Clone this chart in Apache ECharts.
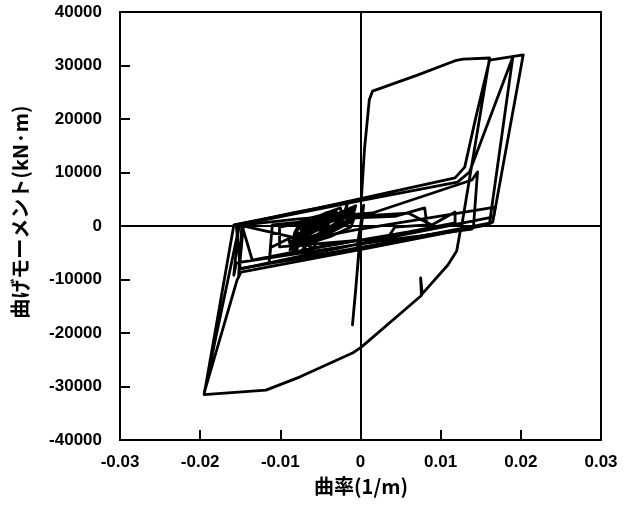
<!DOCTYPE html>
<html>
<head>
<meta charset="utf-8">
<script src="https://cdn.jsdelivr.net/npm/echarts@6/dist/echarts.min.js"></script>
<style>
  html, body { margin: 0; padding: 0; background: #fff; }
  #chart { width: 637px; height: 512px; }
</style>
</head>
<body>
<div id="chart"></div>
<script>
// Axis ranges and tick steps
const curvatureTicks = [-0.03, -0.02, -0.01, 0, 0.01, 0.02, 0.03];
const momentTicks = [-40000, -30000, -20000, -10000, 0, 10000, 20000, 30000, 40000];

// Moment-curvature history, [curvature (1/m), moment (kN·m)]
// Early elastic cycles and the first negative push
const initialCycles = [
  [0.0000, 0], [0.0003, 2100], [-0.0001, -2200], [0.0004, 3900], [-0.0004, -3700],
  [0.0001, 0], [-0.0010, -18500], [-0.0006, -12000], [-0.0001, -2600]
];

// Small cycles concentrated at negative curvature
const smallCycles = [
  [-0.0001, -2600], [-0.0030, -3400], [-0.0062, -4200], [-0.0070, -4600], [-0.0066, -1500],
  [-0.0060, 300], [-0.0035, 1400], [-0.0012, 2600], [-0.0008, 3400], [-0.0012, 800],
  [-0.0040, -1000], [-0.0072, -2600], [-0.0080, -4300], [-0.0076, -1800], [-0.0070, 400],
  [-0.0045, 1600], [-0.0018, 2900], [-0.0016, 4600], [-0.0020, 2400], [-0.0046, 200],
  [-0.0078, -2200], [-0.0086, -3900], [-0.0082, -1200], [-0.0074, 1000], [-0.0050, 2000],
  [-0.0025, 3400], [-0.0022, 1200], [-0.0050, -1200], [-0.0068, -2800], [-0.0088, -4500],
  [-0.0084, -2600], [-0.0078, -600], [-0.0055, 800], [-0.0030, 2200], [-0.0006, 3800],
  [-0.0010, 1600], [-0.0036, -600], [-0.0062, -2000], [-0.0085, -3300], [-0.0080, -1600],
  [-0.0060, -400], [-0.0035, 900], [-0.0015, 2000], [-0.0040, -300], [-0.0070, -1400],
  [-0.0090, -2400], [-0.0086, -4200], [-0.0080, -4800], [-0.0076, -2500], [-0.0068, -400],
  [-0.0050, 700], [-0.0028, 1900], [-0.0010, 3000], [-0.0014, 600], [-0.0042, -1600],
  [-0.0064, -3000], [-0.0072, -4400], [-0.0066, -2200], [-0.0058, -200], [-0.0040, 1000],
  [-0.0022, 2200], [-0.0034, 0], [-0.0056, -1800], [-0.0080, -3600], [-0.0083, -2000],
  [-0.0076, 0], [-0.0062, 1200], [-0.0044, 2400], [-0.0030, 3000], [-0.0036, 1000],
  [-0.0060, -800], [-0.0074, -2000], [-0.0066, -3600], [-0.0058, -4200], [-0.0054, -2400],
  [-0.0044, -1000], [-0.0026, 400], [-0.0008, 1400], [-0.0012, -200], [-0.0038, -2000],
  [-0.0064, -3200], [-0.0078, -3800], [-0.0074, -1200], [-0.0066, 800], [-0.0048, 1800],
  [-0.0034, 2600], [-0.0040, 400], [-0.0064, -1600], [-0.0088, -3000], [-0.0090, -2400]
];

// Intermediate cycles out to about ±0.015
const mediumCycles = [
  [-0.0090, -2400], [-0.0112, -4000], [-0.0114, -6900], [-0.0110, 200], [-0.0030, 1400],
  [0.0043, 1800], [0.0080, 3400], [0.0083, 200], [0.0043, -200], [0.0034, -2200],
  [-0.0060, -3400], [-0.0101, -3900], [-0.0101, -200], [-0.0040, 1500], [0.0060, 2400],
  [0.0089, 200], [0.0118, 2600], [0.0118, 600], [0.0060, -1100], [-0.0050, -3900],
  [-0.0135, -6400], [-0.0148, 200], [-0.0152, -9300], [-0.0146, 200], [-0.0080, 1300],
  [0.0015, 2430], [0.0139, 8600], [0.0146, 10100], [0.0141, 0], [0.0139, -600],
  [0.0020, -2900], [-0.0155, -6900], [-0.0158, -9200], [-0.0152, 200], [-0.0070, -2600],
  [-0.0008, -750], [0.0168, 3550], [0.0166, 1700], [0.0034, -2240], [-0.0150, -8000],
  [-0.0155, 200], [-0.0080, 2600], [0.0001, 4860]
];

// Large cycles to about ±0.02
const largeCycles = [
  [0.0001, 4860], [0.0005, 14400], [0.0011, 23600], [0.0015, 25200], [0.0071, 28200],
  [0.0118, 30900], [0.0128, 31200], [0.0161, 31400], [0.0126, -190], [0.0124, -1310],
  [0.0120, -4680], [0.0109, -7290], [0.0077, -12700], [0.0075, -9700], [0.0076, -13000],
  [0.0074, -13280], [0.0001, -22630], [-0.0010, -23750], [-0.0076, -28240], [-0.0118, -30670],
  [-0.0195, -31500], [-0.0158, 200], [-0.0076, 2600], [0.0003, 5200], [0.0118, 9000],
  [0.0130, 11000], [0.0144, 20400], [0.0161, 31000], [0.0203, 32000], [0.0165, 750],
  [0.0158, 200], [0.0011, -4100], [-0.0149, -8600], [-0.0154, -10100], [-0.0195, -31200],
  [-0.0151, 200], [0.0005, 4900], [0.0121, 8200], [0.0136, 10100], [0.0190, 31600],
  [0.0161, 560], [0.0011, -3700], [-0.0148, -7900]
];

const histories = [initialCycles, smallCycles, mediumCycles, largeCycles];

const chart = echarts.init(document.getElementById('chart'), null, { renderer: 'canvas' });

const tickFont = {
  color: '#000',
  fontFamily: 'Liberation Sans',
  fontWeight: 'bold',
  fontSize: 17
};

const series = histories.map(function (pts) {
  return {
    type: 'line',
    data: pts,
    showSymbol: false,
    symbol: 'none',
    smooth: false,
    animation: false,
    lineStyle: { color: '#000', width: 2.8, join: 'round', cap: 'round' },
    z: 3
  };
});

// Zero reference lines across the whole plot
series.push({
  type: 'line',
  data: [],
  silent: true,
  animation: false,
  markLine: {
    silent: true,
    symbol: 'none',
    animation: false,
    label: { show: false },
    lineStyle: { color: '#000', width: 2, type: 'solid' },
    data: [{ xAxis: 0 }, { yAxis: 0 }]
  }
});

chart.setOption({
  backgroundColor: '#fff',
  animation: false,
  grid: {
    left: 120, right: 36, top: 12, bottom: 72,
    show: true, borderColor: '#000', borderWidth: 2, backgroundColor: 'transparent'
  },
  xAxis: {
    type: 'value',
    min: curvatureTicks[0],
    max: curvatureTicks[curvatureTicks.length - 1],
    interval: 0.01,
    axisLine: { show: true, onZero: false, lineStyle: { color: '#000', width: 2 } },
    axisTick: { show: true, inside: true, length: 10, lineStyle: { color: '#000', width: 2 } },
    splitLine: { show: false },
    axisLabel: Object.assign({ margin: 14, formatter: function (v) { return String(+v.toFixed(2)); } }, tickFont)
  },
  yAxis: {
    type: 'value',
    min: momentTicks[0],
    max: momentTicks[momentTicks.length - 1],
    interval: 10000,
    axisLine: { show: true, onZero: false, lineStyle: { color: '#000', width: 2 } },
    axisTick: { show: true, inside: true, length: 10, lineStyle: { color: '#000', width: 2 } },
    splitLine: { show: false },
    axisLabel: Object.assign({ margin: 18, formatter: function (v) { return String(v); } }, tickFont)
  },
  graphic: [
    {
      type: 'text',
      x: 361, y: 486,
      style: {
        text: '曲率(1/m)',
        font: 'bold 20px "Noto Sans CJK JP"',
        fill: '#000',
        align: 'center',
        verticalAlign: 'middle'
      }
    },
    {
      type: 'text',
      x: 20, y: 212,
      rotation: Math.PI / 2,
      style: {
        text: '曲げモーメント(kN·m)',
        font: 'bold 20px "Noto Sans CJK JP"',
        fill: '#000',
        align: 'center',
        verticalAlign: 'middle'
      }
    }
  ],
  series: series
});
</script>
</body>
</html>
